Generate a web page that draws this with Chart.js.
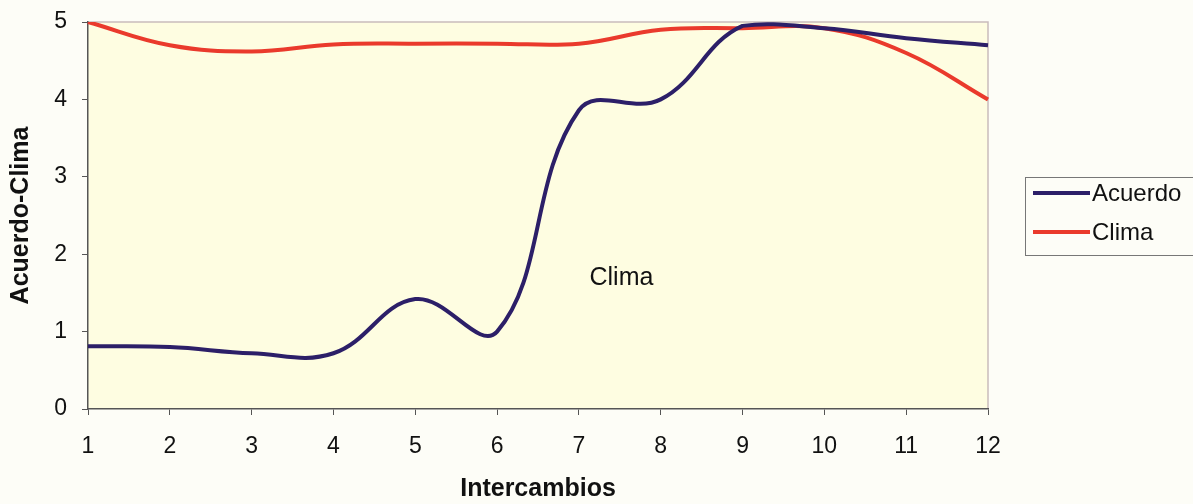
<!DOCTYPE html>
<html>
<head>
<meta charset="utf-8">
<script src="https://cdn.jsdelivr.net/npm/chart.js@4.4.0/dist/chart.umd.min.js"></script>
<style>
    body { margin: 0; background: #fdfdf7; }
    #wrap { width: 1193px; height: 504px; }
</style>
</head>
<body>
<div id="wrap"><canvas id="myChart" width="1193" height="504"></canvas></div>
<script>
// data
const intercambios = ['1', '2', '3', '4', '5', '6', '7', '8', '9', '10', '11', '12'];
const acuerdo = [0.81, 0.80, 0.72, 0.72, 1.42, 1.0, 3.86, 4.0, 4.95, 4.92, 4.79, 4.70];
const clima = [5.0, 4.70, 4.62, 4.71, 4.72, 4.72, 4.72, 4.90, 4.92, 4.92, 4.60, 4.0];
const yTicks = [0, 1, 2, 3, 4, 5];

const FONT = '"Liberation Sans", Arial, sans-serif';

// plot background + light top/right border
const plotArea = {
    id: 'plotArea',
    beforeDraw(chart) {
        const { ctx, chartArea: a } = chart;
        ctx.save();
        ctx.fillStyle = '#fefde1';
        ctx.fillRect(a.left, a.top, a.right - a.left, a.bottom - a.top);
        ctx.strokeStyle = '#c9bcbc';
        ctx.lineWidth = 1.5;
        ctx.beginPath();
        ctx.moveTo(a.left, a.top);
        ctx.lineTo(a.right, a.top);
        ctx.lineTo(a.right, a.bottom);
        ctx.stroke();
        ctx.restore();
    }
};

// boxed legend on the right + "Clima" label in the plot
const extras = {
    id: 'extras',
    afterDraw(chart) {
        const { ctx } = chart;
        ctx.save();
        ctx.strokeStyle = '#777';
        ctx.lineWidth = 1;
        ctx.strokeRect(1025.5, 177.5, 175, 78);

        const rows = [193, 232];
        chart.data.datasets.forEach((ds, i) => {
            ctx.strokeStyle = ds.borderColor;
            ctx.lineWidth = 4;
            ctx.beginPath();
            ctx.moveTo(1033, rows[i]);
            ctx.lineTo(1090, rows[i]);
            ctx.stroke();
            ctx.fillStyle = '#111';
            ctx.font = '24px ' + FONT;
            ctx.textBaseline = 'middle';
            ctx.textAlign = 'left';
            ctx.fillText(ds.label, 1092, rows[i] + 1);
        });

        // category scale works on indexes, so "7.52" on the axis is index 6.52
        const x = chart.scales.x.getPixelForValue(6.52);
        const y = chart.scales.y.getPixelForValue(1.69);
        ctx.fillStyle = '#111';
        ctx.font = '25px ' + FONT;
        ctx.textAlign = 'center';
        ctx.textBaseline = 'middle';
        ctx.fillText('Clima', x, y);
        ctx.restore();
    }
};

new Chart(document.getElementById('myChart').getContext('2d'), {
    type: 'line',
    data: {
        labels: intercambios,
        datasets: [{
            label: 'Acuerdo',
            data: acuerdo,
            borderColor: '#2c1f68',
            borderWidth: 4,
            pointRadius: 0,
            tension: 0.4,
            fill: false
        }, {
            label: 'Clima',
            data: clima,
            borderColor: '#ea3a2c',
            borderWidth: 4,
            pointRadius: 0,
            tension: 0.4,
            fill: false
        }]
    },
    options: {
        responsive: false,
        animation: false,
        layout: { padding: { top: 22, right: 205, left: 0, bottom: 0 } },
        plugins: {
            legend: { display: false },
            tooltip: { enabled: false }
        },
        scales: {
            x: {
                type: 'category',
                offset: false,
                afterFit: s => { s.height = 95; },
                grid: { drawOnChartArea: false, drawTicks: true, tickLength: 6, color: '#555' },
                border: { display: true, color: '#555', width: 1.5 },
                ticks: { color: '#111', font: { family: FONT, size: 23 }, padding: 18, maxRotation: 0, autoSkip: false },
                title: {
                    display: true,
                    text: 'Intercambios',
                    color: '#111',
                    font: { family: FONT, size: 25, weight: 'bold' },
                    padding: { top: 0, bottom: 0 }
                }
            },
            y: {
                min: 0,
                max: 5,
                afterFit: s => { s.width = 88; s.paddingTop = 0; s.paddingBottom = 0; },
                afterBuildTicks: s => { s.ticks = yTicks.map(v => ({ value: v })); },
                grid: { drawOnChartArea: false, drawTicks: true, tickLength: 6, color: '#555' },
                border: { display: true, color: '#555', width: 1.5 },
                ticks: { color: '#111', font: { family: FONT, size: 23 }, padding: 15 },
                title: {
                    display: true,
                    text: 'Acuerdo-Clima',
                    color: '#111',
                    font: { family: FONT, size: 25, weight: 'bold' },
                    padding: { top: 6, bottom: 0 }
                }
            }
        }
    },
    plugins: [plotArea, extras]
});
</script>
</body>
</html>
